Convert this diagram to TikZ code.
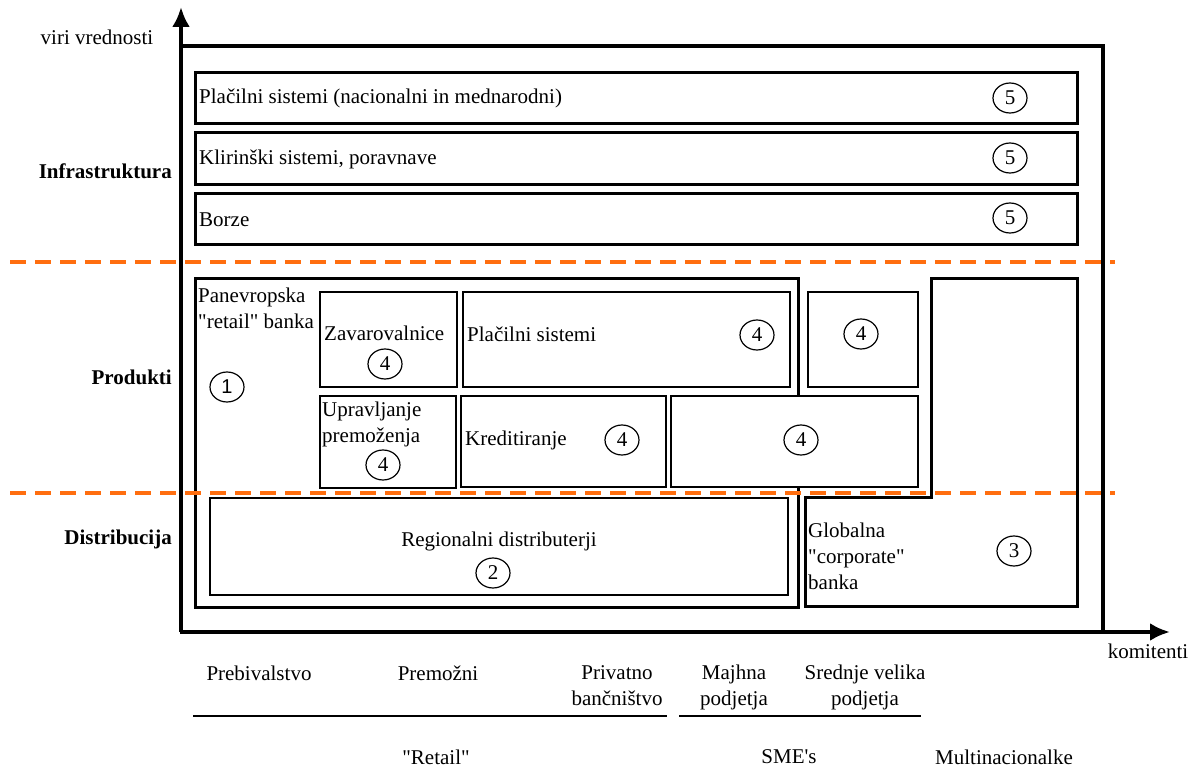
\documentclass[tikz,border=0pt]{standalone}
\usepackage{fontspec}
\setmainfont{Liberation Serif}[Ligatures=TeXOff]
\newfontfamily\digitsans{Liberation Sans}
\usetikzlibrary{shapes.geometric,arrows.meta}
\definecolor{dashorange}{RGB}{255,110,15}

\begin{document}
\begin{tikzpicture}[x=1pt, y=-1pt, font=\fontsize{21}{26}\selectfont,
	frame/.style={draw, line width=3pt, inner sep=0pt},
	box/.style={draw, line width=1.6pt, inner sep=0pt, fill=white},
	num/.style={draw, ellipse, line width=1.2pt, minimum width=34pt, minimum height=30pt, inner sep=0pt},
	axis/.style={line width=4pt, -{Latex[length=20pt,width=18pt]}},
	divider/.style={dashorange, line width=4.5pt, dash pattern=on 16pt off 9pt},
	level/.style={font=\fontsize{21}{26}\selectfont\bfseries, anchor=east, inner sep=0pt},
	txt/.style={anchor=west, inner sep=0pt},
	lbl/.style={inner sep=0pt}]
%			\draw[help lines] (0,0) grid (1192,767);
			\useasboundingbox (0,0) rectangle (1192,767);
			% okvir
			\node[frame, minimum width=921, minimum height=585] (okvir) at (641.5,339.5) {};
			% infrastruktura
			\node[frame, minimum width=882, minimum height=51] (placilni) at (636,98.5) {};
			\node[frame, minimum width=882, minimum height=52] (kliring) at (636,159) {};
			\node[frame, minimum width=882, minimum height=51] (borze) at (636,219.5) {};
			\node[txt] (t_placilni) at (199,98) {Plačilni sistemi (nacionalni in mednarodni)};
			\node[txt] (t_kliring) at (199,159) {Klirinški sistemi, poravnave};
			\node[txt] (t_borze) at (199,220) {Borze};
			\node[num] (n5a) at (1010,98) {5};
			\node[num] (n5b) at (1010,158) {5};
			\node[num] (n5c) at (1010,218) {5};
			% produkti
			\node[frame, minimum width=603, minimum height=328] (panevr) at (496.5,443) {};
			\draw[line width=3pt] (805,606) -- (805,497) -- (931,497) -- (931,279) -- (1077,279) -- (1077,606) -- cycle;
			\node[box, minimum width=137, minimum height=95] (zavar) at (388.5,339.5) {};
			\node[box, minimum width=327, minimum height=95] (placsis) at (626.5,339.5) {};
			\node[box, minimum width=110, minimum height=95] (sme4) at (863,339.5) {};
			\node[box, minimum width=136, minimum height=92] (uprav) at (388,442) {};
			\node[box, minimum width=205, minimum height=91] (kredit) at (563.5,441.5) {};
			\node[box, minimum width=247, minimum height=91] (posoj) at (794.5,441.5) {};
			\node[lbl, anchor=north west] (t_panevr) at (198,284) {\begin{tabular}{@{}l@{}} Panevropska \\ "retail" banka \end{tabular}};
			\node[txt] (t_zavar) at (324,333) {Zavarovalnice};
			\node[txt] (t_placsis) at (467,334) {Plačilni sistemi};
			\node[lbl, anchor=north west] (t_uprav) at (322,398) {\begin{tabular}{@{}l@{}} Upravljanje \\ premoženja \end{tabular}};
			\node[txt] (t_kredit) at (465,440) {Kreditiranje};
			\node[num, font=\digitsans\fontsize{20}{24}\selectfont] (n1) at (227,387) {1};
			\node[num] (n4a) at (385,364) {4};
			\node[num] (n4b) at (757,335) {4};
			\node[num] (n4c) at (861,334) {4};
			\node[num] (n4d) at (383,465) {4};
			\node[num] (n4e) at (622,440) {4};
			\node[num] (n4f) at (801,440) {4};
			% distribucija
			\node[box, minimum width=578, minimum height=97] (region) at (499,546.5) {};
			\node[lbl] (t_region) at (499,541) {Regionalni distributerji};
			\node[num] (n2) at (493,573) {2};
			\node[lbl, anchor=north west] (t_global) at (808,519) {\begin{tabular}{@{}l@{}} Globalna \\ "corporate" \\ banka \end{tabular}};
			\node[num] (n3) at (1014,551) {3};
			% meje
			\coordinate (d1w) at (10,262);
			\coordinate (d1e) at (1115,262);
			\coordinate (d2w) at (10,493);
			\coordinate (d2e) at (1115,493);
			\draw[divider] (d1w) -- (d1e);
			\draw[divider] (d2w) -- (d2e);
			\draw[line width=3pt] (okvir.north west) -- (okvir.north east) -- (okvir.south east);
			% osi
			\coordinate (izhodisce) at (181,632);
			\coordinate (ytip) at (181,7);
			\coordinate (xtip) at (1170,632);
			\draw[axis] (izhodisce) -- (ytip);
			\draw[axis] (izhodisce) -- (xtip);
			\node[lbl] (viri) at (97,37) {viri vrednosti};
			\node[lbl] (komit) at (1148,651) {komitenti};
			\node[level] (infra) at (172,171) {Infrastruktura};
			\node[level] (prod) at (172,377) {Produkti};
			\node[level] (distr) at (172,539) {Distribucija};
			% komitenti
			\node[lbl] (preb) at (259,673) {Prebivalstvo};
			\node[lbl] (premoz) at (438,673) {Premožni};
			\node[lbl] (privat) at (617,687) {\begin{tabular}{@{}c@{}} Privatno \\ bančništvo \end{tabular}};
			\node[lbl] (majhna) at (734,687) {\begin{tabular}{@{}c@{}} Majhna \\ podjetja \end{tabular}};
			\node[lbl] (srednje) at (865,687) {\begin{tabular}{@{}c@{}} Srednje velika \\ podjetja \end{tabular}};
			\coordinate (r1) at (193,716);
			\coordinate (r2) at (667,716);
			\coordinate (s1) at (679,716);
			\coordinate (s2) at (921,716);
			\draw[line width=2.5pt] (r1) -- (r2);
			\draw[line width=2.5pt] (s1) -- (s2);
			\node[lbl] (retail) at (436,757) {"Retail"};
			\node[lbl] (smes) at (789,757) {SME's};
			\node[lbl] (multi) at (1004,757) {Multinacionalke};
		\end{tikzpicture}
\end{document}
